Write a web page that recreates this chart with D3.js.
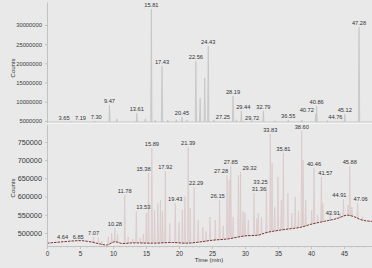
<!DOCTYPE html>
<html lang="en">
<head>
<meta charset="utf-8">
<title>Chromatograms</title>
<script src="https://cdn.jsdelivr.net/npm/d3@7"></script>
<style>
	body { margin: 0; background: #e9e9e9; }
	svg { display: block; font-family: "Liberation Sans", Arial, sans-serif; }
	.axis path, .axis line { stroke: #c2c2c2; }
	.axis text { fill: #3a3a3a; }
	.peaklabel { fill: #333; font-size: 5.7px; text-anchor: middle; }
</style>
</head>
<body>
<script>
// shared time axis (min)
var timeTicks = [0, 5, 10, 15, 20, 25, 30, 35, 40, 45];

// upper chromatogram
var topTicks = [5000000, 10000000, 15000000, 20000000, 25000000, 30000000];
var topBase = 4750000;
var topTimes  = [3.65, 7.19, 7.30, 9.47, 10.6, 13.61, 14.9, 15.81, 16.4, 17.43, 18.3, 19.6, 20.45, 21.2, 22.56, 23.2, 23.9, 24.43, 25.3, 27.25, 28.19, 28.7, 29.44, 29.72, 31.0, 32.79, 34.5, 36.55, 38.6, 40.72, 40.86, 42.5, 44.76, 45.12, 47.28];
var topCounts = [4850000, 4850000, 4950000, 9150000, 5600000, 7070000, 5500000, 34180000, 5200000, 19320000, 5200000, 5300000, 6020000, 5300000, 20620000, 10980000, 16200000, 24530000, 5300000, 4900000, 11500000, 5300000, 7590000, 4850000, 5200000, 7590000, 5100000, 5240000, 5200000, 6810000, 8890000, 5100000, 4950000, 6800000, 29500000];
var topLabels = ["3.65", "7.19", "7.30", "9.47", "", "13.61", "", "15.81", "", "17.43", "", "", "20.45", "", "22.56", "", "", "24.43", "", "27.25", "28.19", "", "29.44", "29.72", "", "32.79", "", "36.55", "", "40.72", "40.86", "", "44.76", "45.12", "47.28"];

// lower chromatogram
var lowTicks = [500000, 550000, 600000, 650000, 700000, 750000];
var lowBaseTimes  = [0, 2.5, 5, 6.8, 8, 9, 10.3, 11.5, 13, 16, 19, 21, 23, 25, 27.5, 30, 32, 33, 35, 37, 38.5, 40, 42, 44, 45.5, 46.5, 47.5, 48.5, 49.5];
var lowBaseCounts = [472000, 476000, 479000, 475000, 470000, 467000, 476000, 471000, 473000, 472000, 474000, 472000, 475000, 480000, 484000, 492000, 494000, 500000, 507000, 512000, 516000, 524000, 532000, 540000, 549000, 545000, 537000, 533000, 532000];
var lowTimes  = [4.64, 6.85, 7.07, 7.8, 8.3, 9.3, 9.8, 10.28, 10.7, 11.78, 12.3, 13.0, 13.53, 14.1, 14.6, 15.05, 15.38, 15.89, 16.3, 16.8, 17.2, 17.5, 17.92, 18.6, 19.43, 20.0, 20.5, 20.9, 21.39, 21.7, 22.29, 22.9, 23.6, 24.1, 24.7, 25.5, 26.15, 26.7, 27.28, 27.6, 27.85, 28.2, 29.0, 29.32, 29.7, 30.0, 30.5, 31.36, 31.8, 32.0, 32.5, 33.25, 33.83, 34.1, 34.5, 35.0, 35.5, 35.81, 36.5, 37.1, 37.6, 38.1, 38.60, 38.8, 39.2, 40.1, 40.46, 41.0, 41.57, 41.8, 42.9, 43.91, 44.4, 44.91, 45.6, 45.88, 46.2, 47.06, 47.8];
var lowCounts = [479000, 478000, 489000, 487000, 478000, 490000, 500000, 513700, 497000, 604000, 489000, 484000, 560000, 486000, 497000, 555000, 665000, 733500, 563000, 582000, 590000, 560000, 670000, 527000, 582000, 530000, 563000, 600000, 736000, 569000, 626000, 536000, 516000, 505000, 544000, 536000, 591000, 520000, 659000, 646000, 684000, 544000, 659000, 667600, 560000, 555000, 536000, 610000, 540000, 555000, 544000, 629000, 772000, 692000, 571000, 654000, 591000, 720000, 610000, 555000, 599000, 560000, 780000, 700000, 591000, 563000, 678600, 550000, 654000, 582000, 555000, 544000, 556000, 593000, 577000, 684000, 571000, 582000, 545000];
var lowLabels = ["4.64", "6.85", "7.07", "", "", "", "", "10.28", "", "11.78", "", "", "13.53", "", "", "", "15.38", "15.89", "", "", "", "", "17.92", "", "19.43", "", "", "", "21.39", "", "22.29", "", "", "", "", "", "26.15", "", "27.28", "", "27.85", "", "", "29.32", "", "", "", "31.36", "", "", "", "33.25", "33.83", "", "", "", "", "35.81", "", "", "", "", "38.60", "", "", "", "40.46", "", "41.57", "", "", "43.91", "", "44.91", "", "45.88", "", "47.06", ""];

// label nudges in px, where the original labels sit beside their peaks
var nudge = {
	"3.65": -7, "7.19": -14, "7.30": 1, "27.25": -4, "29.44": 2, "29.72": 9, "40.72": -9, "44.76": -7,
	"4.64": -15, "6.85": -14, "13.53": 7, "15.38": -5, "22.29": 2, "26.15": -2, "27.28": -6,
	"29.32": 9, "31.36": 5, "33.25": -6, "41.57": 4, "43.91": -4, "44.91": -4, "47.06": 3
};

var width = 372, height = 268;
var svg = d3.select("body").append("svg")
	.attr("width", width)
	.attr("height", height);

var x = d3.scaleLinear().domain([0, 49.5]).range([47, 373.7]);
var yTop = d3.scaleLinear().domain([4200000, 36000000]).range([124, 2]);
var yLow = d3.scaleLinear().domain([464300, 796700]).range([246, 125]);
var lowBase = d3.scaleLinear().domain(lowBaseTimes).range(lowBaseCounts).clamp(true);

function spike(t, h, base, y) {
	var px = x(t);
	return "M" + (px - 0.7) + "," + y(base) + "L" + px + "," + y(h) + "L" + (px + 0.7) + "," + y(base);
}

// ---- upper panel ----
var gTop = svg.append("g");

gTop.append("line")
	.attr("x1", x(0)).attr("x2", width)
	.attr("y1", yTop(topBase)).attr("y2", yTop(topBase))
	.attr("stroke", "#c6c6c6").attr("stroke-width", 0.8);

gTop.selectAll("path.peak")
	.data(d3.range(topTimes.length))
	.enter()
	.append("path")
	.attr("class", "peak")
	.attr("d", function(i) { return spike(topTimes[i], topCounts[i], topBase, yTop); })
	.attr("fill", "#d2d2d2")
	.attr("stroke", "#bdbdbd")
	.attr("stroke-width", 0.6);

gTop.selectAll("text.peaklabel")
	.data(d3.range(topTimes.length).filter(function(i) { return topLabels[i]; }))
	.enter()
	.append("text")
	.attr("class", "peaklabel")
	.attr("x", function(i) { return x(topTimes[i]) + (nudge[topLabels[i]] || 0); })
	.attr("y", function(i) { return yTop(topCounts[i]) - 2; })
	.text(function(i) { return topLabels[i]; });

var topAxis = gTop.append("g")
	.attr("class", "axis")
	.attr("transform", "translate(" + x(0) + ",0)")
	.call(d3.axisLeft(yTop).tickValues(topTicks).tickFormat(d3.format("d")).tickSize(2).tickSizeOuter(0));
topAxis.selectAll("text").style("font-size", "5.8px");

// faint strip between the panels
svg.append("line")
	.attr("x1", x(0)).attr("x2", width)
	.attr("y1", 123.5).attr("y2", 123.5)
	.attr("stroke", "#f4f4f4").attr("stroke-width", 1.2);

// ---- lower panel ----
var gLow = svg.append("g");

gLow.selectAll("path.peak")
	.data(d3.range(lowTimes.length))
	.enter()
	.append("path")
	.attr("class", "peak")
	.attr("d", function(i) { return spike(lowTimes[i], lowCounts[i], lowBase(lowTimes[i]), yLow); })
	.attr("fill", "#e6d9d9")
	.attr("stroke", "#d6c0c0")
	.attr("stroke-width", 0.55);

var baseLine = d3.line()
	.x(function(d) { return x(d[0]); })
	.y(function(d) { return yLow(d[1]); })
	.curve(d3.curveMonotoneX);

gLow.append("path")
	.datum(d3.zip(lowBaseTimes, lowBaseCounts))
	.attr("d", baseLine)
	.attr("fill", "none")
	.attr("stroke", "#7a3535")
	.attr("stroke-width", 1)
	.attr("stroke-dasharray", "2.5,1");

gLow.selectAll("text.peaklabel")
	.data(d3.range(lowTimes.length).filter(function(i) { return lowLabels[i]; }))
	.enter()
	.append("text")
	.attr("class", "peaklabel")
	.attr("x", function(i) { return x(lowTimes[i]) + (nudge[lowLabels[i]] || 0); })
	.attr("y", function(i) { return yLow(lowCounts[i]) - 2; })
	.text(function(i) { return lowLabels[i]; });

var lowAxis = gLow.append("g")
	.attr("class", "axis")
	.attr("transform", "translate(" + x(0) + ",0)")
	.call(d3.axisLeft(yLow).tickValues(lowTicks).tickFormat(d3.format("d")).tickSize(2).tickSizeOuter(0));
lowAxis.selectAll("text").style("font-size", "7.3px");

// minor ticks along time axis
gLow.append("g")
	.attr("class", "axis")
	.attr("transform", "translate(0,246)")
	.call(d3.axisBottom(x).tickValues(d3.range(0, 49, 1)).tickSize(1.5).tickFormat(""))
	.select(".domain").remove();

var xAxis = gLow.append("g")
	.attr("class", "axis")
	.attr("transform", "translate(0,246)")
	.call(d3.axisBottom(x).tickValues(timeTicks).tickSize(3).tickSizeOuter(0).tickPadding(2));
xAxis.selectAll("text").style("font-size", "6.4px");

// axis titles
svg.append("text")
	.attr("transform", "translate(15,68) rotate(-90)")
	.attr("text-anchor", "middle")
	.style("font-size", "6px").attr("fill", "#333")
	.text("Counts");

svg.append("text")
	.attr("transform", "translate(15,188) rotate(-90)")
	.attr("text-anchor", "middle")
	.style("font-size", "6px").attr("fill", "#333")
	.text("Counts");

svg.append("text")
	.attr("x", 209).attr("y", 262)
	.attr("text-anchor", "middle")
	.style("font-size", "6px").attr("fill", "#333")
	.text("Time (min)");
</script>
</body>
</html>
